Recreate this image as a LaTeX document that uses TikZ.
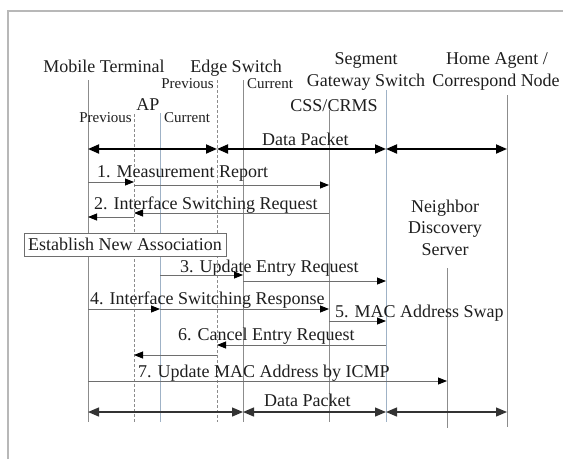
\documentclass[tikz,border=0pt]{standalone}
\usepackage{fontspec}
\setmainfont{Liberation Serif}
\usetikzlibrary{arrows.meta}
\definecolor{framegray}{HTML}{B8B8B8}
\definecolor{lifegray}{HTML}{8C8C8C}
\definecolor{lifeblue}{HTML}{9FB2C6}
\definecolor{msggray}{HTML}{6E6E6E}
\definecolor{inkgray}{HTML}{1E1E1E}
\begin{document}
\begin{tikzpicture}[x=1pt,y=-1pt,
  life/.style={draw=lifegray, line width=0.9pt},
  lifeb/.style={draw=lifeblue, line width=0.9pt},
  lifedash/.style={draw=lifegray, line width=0.9pt, dash pattern=on 3pt off 2pt},
  msg/.style={draw=msggray, line width=0.8pt, -{Triangle[length=9pt,width=7pt,color=black]}},
  datatop/.style={draw=black, line width=1.8pt, {Triangle[length=11pt,width=9pt]}-{Triangle[length=11pt,width=9pt]}},
  databot/.style={draw=black!80, line width=1.3pt, {Triangle[length=11pt,width=9pt]}-{Triangle[length=11pt,width=9pt]}},
  big/.style={font=\fontsize{18}{21}\selectfont, text=inkgray, inner sep=0pt},
  small/.style={font=\fontsize{15}{17}\selectfont, text=inkgray, inner sep=0pt},
  lbl/.style={big, anchor=base west}
]
\useasboundingbox (0,0) rectangle (563,459);
% outer frame
\draw[framegray, line width=1.5pt] (8,459) -- (8,11) -- (563,11);

% lifeline end points
\coordinate (mtT)  at (88,80);  \coordinate (mtB)  at (88,422);
\coordinate (apPT) at (134,114); \coordinate (apPB) at (134,422);
\coordinate (apCT) at (160,113); \coordinate (apCB) at (160,422);
\coordinate (esPT) at (217,80);  \coordinate (esPB) at (217,422);
\coordinate (esCT) at (243,80);  \coordinate (esCB) at (243,422);
\coordinate (cssT) at (329,110); \coordinate (cssB) at (329,422);
\coordinate (sgT)  at (386,90);  \coordinate (sgB)  at (386,422);
\coordinate (ndT)  at (447,268); \coordinate (ndB)  at (447,428);
\coordinate (haT)  at (507,95);  \coordinate (haB)  at (507,427);

% lifelines
\draw[life] (mtT) -- (mtB);
\draw[lifedash] (apPT) -- (apPB);
\draw[lifeb] (apCT) -- (apCB);
\draw[lifedash] (esPT) -- (esPB);
\draw[life] (esCT) -- (esCB);
\draw[life] (cssT) -- (cssB);
\draw[lifeb] (sgT) -- (sgB);
\draw[life] (ndT) -- (ndB);
\draw[life] (haT) -- (haB);

% entity headings
\node[big, anchor=base] (hmt) at (104,72) {Mobile Terminal};
\node[big, anchor=base] (hes) at (236,72) {Edge Switch};
\node[small, anchor=base east] (hesp) at (214,88) {Previous};
\node[small, anchor=base west] (hesc) at (247,88) {Current};
\node[big, anchor=base] (hap) at (148,110) {AP};
\node[small, anchor=base east] (happ) at (132,122) {Previous};
\node[small, anchor=base west] (hapc) at (164,122) {Current};
\node[big, anchor=base] (hsg1) at (366,64) {Segment};
\node[big, anchor=base] (hsg2) at (366,86) {Gateway Switch};
\node[big, anchor=base] (hcss) at (334,111) {CSS/CRMS};
\node[big, anchor=base] (hha1) at (497,64) {Home Agent /};
\node[big, anchor=base] (hha2) at (496,86) {Correspond Node};
\node[big, anchor=base] (hnd1) at (445,212) {Neighbor};
\node[big, anchor=base] (hnd2) at (445,233) {Discovery};
\node[big, anchor=base] (hnd3) at (445,255) {Server};

% data path before the handover
\node[lbl] (dp1) at (262,145) {Data Packet};
\draw[datatop] (mtT |- 0,149) -- (esPT |- 0,149);
\draw[datatop] (esPT |- 0,149) -- (sgT |- 0,149);
\draw[datatop] (sgT |- 0,149) -- (haT |- 0,149);

% 1. measurement report
\node[lbl] (m1) at (97,177) {1. Measurement Report};
\draw[msg] (mtT |- 0,182) -- (apPT |- 0,182);
\draw[msg] (apPT |- 0,185) -- (cssT |- 0,185);

% 2. interface switching request
\node[lbl] (m2) at (94,209) {2. Interface Switching Request};
\draw[msg] (cssT |- 0,213) -- (apPT |- 0,213);
\draw[msg] (apPT |- 0,217) -- (mtT |- 0,217);

% association with the new AP
\node[big, draw=msggray, fill=white, line width=0.8pt, minimum width=202pt,
      minimum height=23pt] (assoc) at (125,244.5) {Establish New Association};

% 3. update entry request
\node[lbl] (m3) at (180,272) {3. Update Entry Request};
\draw[msg] (apCT |- 0,275) -- (esCT |- 0,275);
\draw[msg] (esCT |- 0,281) -- (sgT |- 0,281);

% 4. interface switching response
\node[lbl] (m4) at (90,304) {4. Interface Switching Response};
\draw[msg] (mtT |- 0,309) -- (apCT |- 0,309);
\draw[msg] (apCT |- 0,309) -- (cssT |- 0,309);

% 5. MAC address swap
\node[lbl] (m5) at (335,317) {5. MAC Address Swap};
\draw[msg] (cssT |- 0,321) -- (sgT |- 0,321);

% 6. cancel entry request
\node[lbl] (m6) at (178,340) {6. Cancel Entry Request};
\draw[msg] (sgT |- 0,345) -- (esPT |- 0,345);
\draw[msg] (esPT |- 0,355) -- (apPT |- 0,355);

% 7. update MAC address by ICMP
\node[lbl] (m7) at (138,377) {7. Update MAC Address by ICMP};
\draw[msg] (mtT |- 0,381) -- (ndT |- 0,381);

% data path after the handover
\node[lbl] (dp2) at (264,406) {Data Packet};
\draw[databot] (mtT |- 0,412) -- (esCT |- 0,412);
\draw[databot] (esCT |- 0,412) -- (sgT |- 0,412);
\draw[databot] (sgT |- 0,412) -- (haT |- 0,412);
\end{tikzpicture}
\end{document}
